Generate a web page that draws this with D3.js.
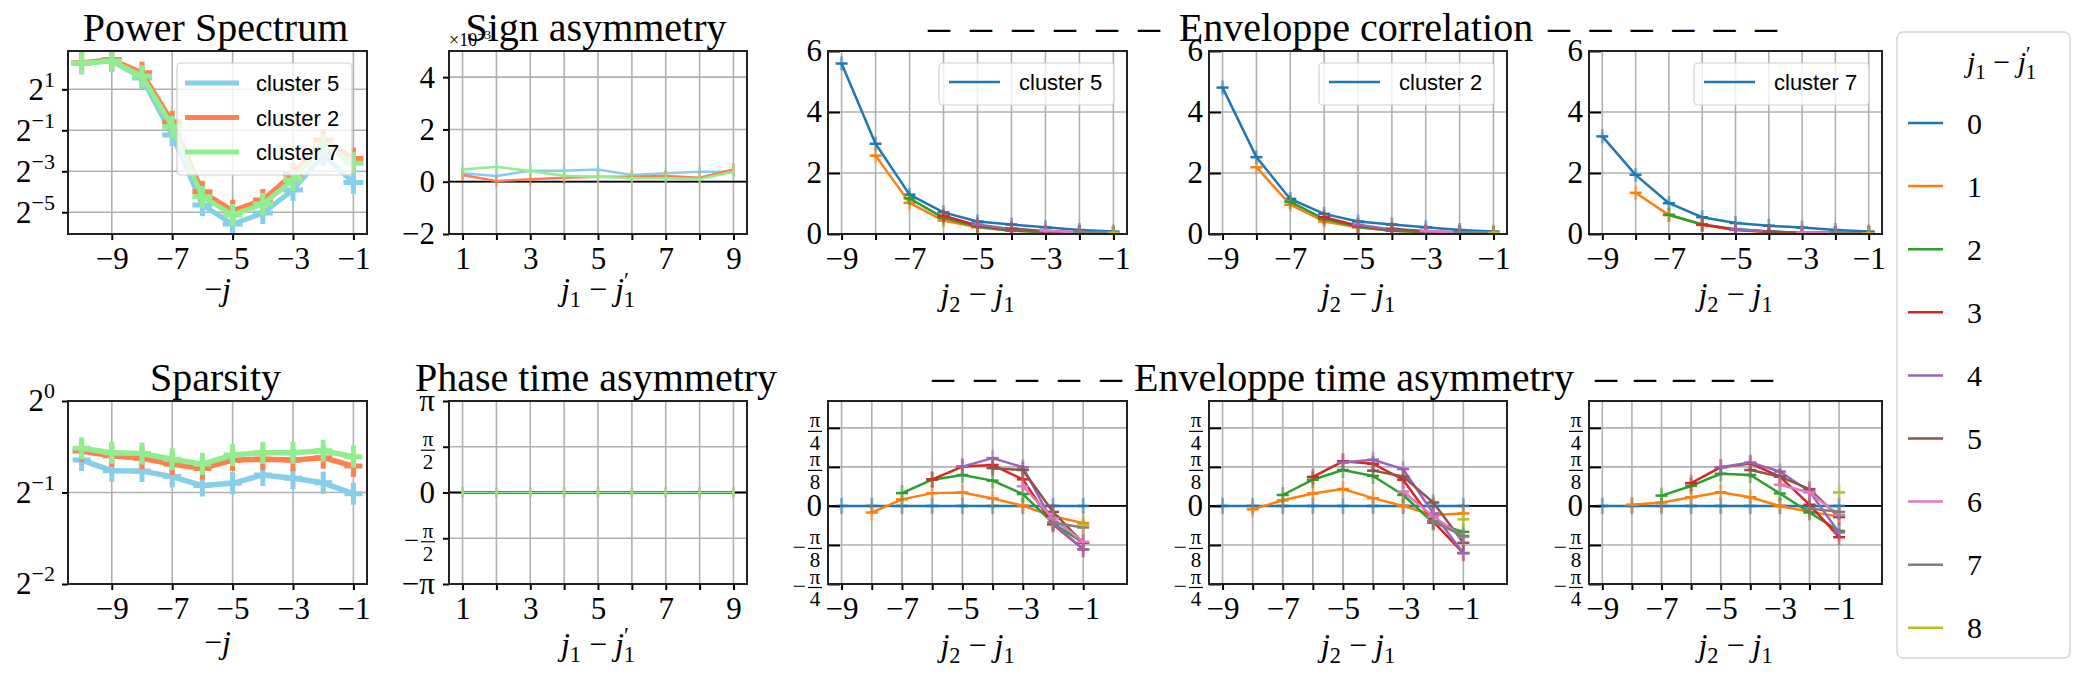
<!DOCTYPE html>
<html>
<head>
<meta charset="utf-8">
<script src="https://cdn.jsdelivr.net/npm/d3@7"></script>
<style>
  body { margin: 0; background: #fff; }
</style>
</head>
<body>
<div id="fig"></div>
<script>
// ---- data ----
var scalesNeg = [-10, -9, -8, -7, -6, -5, -4, -3, -2, -1];   // -j
var scaleDiff = [1, 2, 3, 4, 5, 6, 7, 8, 9];                  // j1 - j1'
var lagJ2 = [-9, -8, -7, -6, -5, -4, -3, -2, -1];             // j2 - j1
var j1Diff = [0, 1, 2, 3, 4, 5, 6, 7, 8];
var clusterNames = ["cluster 5", "cluster 2", "cluster 7"];

// power spectrum (log2 axis)
var power5 = [4.82, 5.21, 2.93, 0.426, 0.0401, 0.0210, 0.0304, 0.0666, 0.218, 0.0854];
var power2 = [4.92, 5.50, 3.51, 0.669, 0.0625, 0.0330, 0.0474, 0.114, 0.361, 0.193];
var power7 = [4.82, 5.21, 3.14, 0.566, 0.0529, 0.0286, 0.0412, 0.0934, 0.304, 0.164];

// sign asymmetry (axis scaled by the x10 offset)
var sign5 = [0.32, 0.22, 0.42, 0.42, 0.47, 0.26, 0.32, 0.38, 0.38];
var sign2 = [0.26, 0.03, 0.09, 0.15, 0.19, 0.19, 0.22, 0.15, 0.47];
var sign7 = [0.47, 0.57, 0.41, 0.23, 0.19, 0.13, 0.13, 0.10, 0.38];

// sparsity (log2 axis)
var sparse5 = [0.639, 0.590, 0.588, 0.564, 0.527, 0.536, 0.571, 0.557, 0.538, 0.495];
var sparse2 = [0.685, 0.660, 0.648, 0.620, 0.600, 0.639, 0.643, 0.639, 0.651, 0.611];
var sparse7 = [0.699, 0.676, 0.672, 0.643, 0.620, 0.664, 0.676, 0.676, 0.686, 0.656];

// phase time asymmetry (units of pi)
var phase5 = [0, 0, 0, 0, 0, 0, 0, 0, 0];
var phase2 = [0, 0, 0, 0, 0, 0, 0, 0, 0];
var phase7 = [0, 0, 0, 0, 0, 0, 0, 0, 0];

// envelope correlation: row k is j1-j1' = k, starting at j2-j1 = -9+k
var envCorr5 = [
  [5.59, 2.96, 1.29, 0.71, 0.41, 0.31, 0.22, 0.13, 0.08],
  [2.57, 1.02, 0.44, 0.22, 0.11, 0.06, 0.04, 0.03],
  [1.17, 0.53, 0.24, 0.11, 0.06, 0.04, 0.03],
  [0.60, 0.28, 0.14, 0.07, 0.05, 0.03],
  [0.31, 0.16, 0.08, 0.05, 0.03],
  [0.18, 0.09, 0.05, 0.03],
  [0.11, 0.06, 0.03],
  [0.07, 0.03],
  [0.04]
];
var envCorr2 = [
  [4.80, 2.52, 1.15, 0.66, 0.41, 0.31, 0.22, 0.13, 0.08],
  [2.19, 0.96, 0.41, 0.22, 0.11, 0.06, 0.04, 0.03],
  [1.06, 0.49, 0.23, 0.11, 0.06, 0.04, 0.03],
  [0.55, 0.27, 0.13, 0.07, 0.04, 0.03],
  [0.30, 0.15, 0.08, 0.04, 0.03],
  [0.17, 0.09, 0.05, 0.03],
  [0.10, 0.05, 0.03],
  [0.06, 0.03],
  [0.04]
];
var envCorr7 = [
  [3.20, 1.94, 1.01, 0.55, 0.36, 0.27, 0.21, 0.13, 0.08],
  [1.35, 0.62, 0.31, 0.13, 0.06, 0.04, 0.03, 0.02],
  [0.63, 0.31, 0.16, 0.08, 0.04, 0.03, 0.02],
  [0.30, 0.14, 0.07, 0.04, 0.03, 0.02],
  [0.15, 0.08, 0.04, 0.03, 0.02],
  [0.08, 0.04, 0.03, 0.02],
  [0.05, 0.03, 0.02],
  [0.03, 0.02],
  [0.02]
];

// envelope time asymmetry (units of pi), same layout
var envAsym5 = [
  [0, 0, 0, 0, 0, 0, 0, 0, 0],
  [-0.021, 0.021, 0.041, 0.043, 0.024, 0.001, -0.033, -0.055],
  [0.041, 0.084, 0.099, 0.081, 0.038, -0.055, -0.118],
  [0.085, 0.126, 0.131, 0.085, -0.059, -0.139],
  [0.126, 0.153, 0.124, -0.054, -0.139],
  [0.121, 0.115, -0.019, -0.118],
  [0.063, -0.040, -0.115],
  [-0.054, -0.069],
  [-0.061]
];
var envAsym2 = [
  [0, 0, 0, 0, 0, 0, 0, 0, 0],
  [-0.011, 0.018, 0.040, 0.054, 0.025, 0.000, -0.029, -0.024],
  [0.035, 0.084, 0.115, 0.096, 0.035, -0.054, -0.083],
  [0.093, 0.143, 0.135, 0.084, -0.050, -0.151],
  [0.139, 0.148, 0.118, -0.024, -0.151],
  [0.113, 0.094, 0.011, -0.118],
  [0.046, -0.034, -0.099],
  [-0.050, -0.096],
  [-0.043]
];
var envAsym7 = [
  [0, 0, 0, 0, 0, 0, 0, 0, 0],
  [0.004, 0.011, 0.028, 0.044, 0.028, 0.000, -0.019, -0.034],
  [0.033, 0.064, 0.103, 0.099, 0.040, -0.021, -0.080],
  [0.073, 0.124, 0.136, 0.094, 0.004, -0.100],
  [0.124, 0.139, 0.110, 0.046, -0.085],
  [0.115, 0.094, 0.054, -0.036],
  [0.068, 0.043, -0.029],
  [-0.008, -0.019],
  [0.043]
];

// tick values
var log2Ticks = [2, 0.5, 0.125, 0.03125];
var sparseTicks = [1, 0.5, 0.25];
var signTicks = [-2, 0, 2, 4];
var corrTicks = [0, 2, 4, 6];
var phaseTicks = [-1, -0.5, 0, 0.5, 1];
var asymTicks = [-0.25, -0.125, 0, 0.125, 0.25];

// ---- styles ----
var clusterColors = ["#87ceeb", "#ff7f50", "#90ee90"];
var tab10 = ["#1f77b4", "#ff7f0e", "#2ca02c", "#d62728", "#9467bd", "#8c564b", "#e377c2", "#7f7f7f", "#bcbd22"];
var SERIF = "'Liberation Serif', 'DejaVu Serif', serif";
var SANS = "'Liberation Sans', 'DejaVu Sans', sans-serif";

var svg = d3.select("#fig").append("svg")
  .attr("width", 2092).attr("height", 677)
  .style("background", "#fff");
var defs = svg.append("defs");

var colX = [[68, 367], [449, 747], [828, 1127], [1209, 1507], [1589, 1882]];
var rowY = [[51, 234], [401, 584]];

function makePanel(c, r, x, y) {
  var p = { x0: colX[c][0], x1: colX[c][1], y0: rowY[r][0], y1: rowY[r][1] };
  p.x = x.range([p.x0, p.x1]);
  p.y = y.range([p.y1, p.y0]);
  var id = "clip" + c + r;
  defs.append("clipPath").attr("id", id).append("rect")
    .attr("x", p.x0).attr("y", p.y0).attr("width", p.x1 - p.x0).attr("height", p.y1 - p.y0);
  p.g = svg.append("g");
  p.grid = p.g.append("g");
  p.plot = p.g.append("g").attr("clip-path", "url(#" + id + ")");
  p.axes = p.g.append("g");
  return p;
}

function drawGrid(p, xv, yv) {
  p.grid.selectAll(".gx").data(xv).enter().append("line")
    .attr("x1", function (d) { return p.x(d); }).attr("x2", function (d) { return p.x(d); })
    .attr("y1", p.y0).attr("y2", p.y1)
    .style("stroke", "#b0b0b0").style("stroke-width", 1.6);
  p.grid.selectAll(".gy").data(yv).enter().append("line")
    .attr("y1", function (d) { return p.y(d); }).attr("y2", function (d) { return p.y(d); })
    .attr("x1", p.x0).attr("x2", p.x1)
    .style("stroke", "#b0b0b0").style("stroke-width", 1.6);
}

function zeroLine(p) {
  p.plot.append("line")
    .attr("x1", p.x0).attr("x2", p.x1).attr("y1", p.y(0)).attr("y2", p.y(0))
    .style("stroke", "#000").style("stroke-width", 1.8);
}

function frame(p) {
  p.g.append("rect")
    .attr("x", p.x0).attr("y", p.y0).attr("width", p.x1 - p.x0).attr("height", p.y1 - p.y0)
    .style("fill", "none").style("stroke", "#222").style("stroke-width", 2);
}

function styleAxis(g) {
  g.select(".domain").remove();
  g.attr("font-family", SERIF).attr("font-size", 31);
  g.selectAll(".tick line").style("stroke-width", 2);
}

function xAxis(p, ticks, labelled) {
  var ax = d3.axisBottom(p.x).tickValues(ticks).tickSize(6).tickPadding(7)
    .tickFormat(function (d) { return labelled.indexOf(d) >= 0 ? d3.format("d")(d) : ""; });
  var g = p.axes.append("g").attr("transform", "translate(0," + p.y1 + ")").call(ax);
  styleAxis(g);
}

function yAxis(p, ticks, inner, pad, fmt) {
  var ax = d3.axisLeft(p.y).tickValues(ticks).tickSizeInner(inner).tickSizeOuter(0)
    .tickPadding(pad).tickFormat(fmt || d3.format("d"));
  var g = p.axes.append("g").attr("transform", "translate(" + p.x0 + ",0)").call(ax);
  styleAxis(g);
  return g;
}

// y labels like 2^k
function log2Labels(g) {
  g.selectAll(".tick text").each(function (d) {
    var t = d3.select(this).text("2");
    t.append("tspan").attr("dy", -13).style("font-size", "22px")
      .text(d3.format("d")(Math.round(Math.log2(d))));
  });
}

// y labels as fractions of pi
function piLabels(g, pad, fs, big) {
  g.selectAll(".tick").each(function (d) {
    var t = d3.select(this);
    t.select("text").remove();
    var right = -pad;
    var txt = function () {
      return t.append("text").attr("fill", "#000").style("font-family", SERIF);
    };
    if (d == 0) {
      txt().attr("x", right).attr("dy", "0.32em").attr("text-anchor", "end")
        .style("font-size", "31px").text("0");
      return;
    }
    var a = Math.abs(d);
    if (a == 1) {
      txt().attr("x", right).attr("dy", "0.32em").attr("text-anchor", "end")
        .style("font-size", "31px").text((d < 0 ? "−" : "") + "π");
      return;
    }
    var den = Math.round(1 / a);
    var w = 14, bar = 3, cx = right - w / 2;
    txt().attr("x", cx).attr("y", bar - 4).attr("text-anchor", "middle")
      .style("font-size", fs + "px").text("π");
    t.append("line").attr("x1", right - w).attr("x2", right).attr("y1", bar).attr("y2", bar)
      .style("stroke", "#000").style("stroke-width", 1.2);
    txt().attr("x", cx).attr("y", bar + fs * 0.9).attr("text-anchor", "middle")
      .style("font-size", fs + "px").text(den);
    if (d < 0) {
      txt().attr("x", right - w - 2).attr("y", bar + big * 0.27).attr("text-anchor", "end")
        .style("font-size", big + "px").text("−");
    }
  });
}

// math-ish label with italic / sub / sup parts
function mathLabel(parent, x, y, parts, size, anchor) {
  var t = parent.append("text")
    .attr("x", x).attr("y", y)
    .attr("fill", "#000")
    .attr("text-anchor", anchor || "middle")
    .style("font-family", SERIF)
    .style("font-size", size + "px");
  var shift = 0;
  parts.forEach(function (p) {
    var s = t.append("tspan").text(p[0]);
    var want = 0;
    if (p[1] == "i") s.style("font-style", "italic");
    if (p[1] == "sub") { want = size * 0.22; s.style("font-size", (size * 0.7) + "px"); }
    if (p[1] == "sup") { want = -size * 0.38; s.style("font-size", (size * 0.7) + "px"); }
    if (p[2]) s.attr("dx", p[2]);
    s.attr("dy", want - shift);
    shift = want;
  });
  return t;
}
var labNegJ = [["−"], ["j", "i"]];
var labJ1 = [["j", "i"], ["1", "sub"], [" − "], ["j", "i"], ["′", "sup"], ["1", "sub", -5]];
var labJ2 = [["j", "i"], ["2", "sub"], [" − "], ["j", "i"], ["1", "sub"]];

function title(p, text) {
  svg.append("text")
    .attr("x", (p.x0 + p.x1) / 2 - 2).attr("y", p.y0 - 10)
    .attr("text-anchor", "middle")
    .style("font-family", SERIF).style("font-size", "40px")
    .text(text);
}

function drawSeries(p, xs, ys, color, o) {
  var pts = ys.map(function (v, i) { return [xs[i], v]; });
  var line = d3.line()
    .x(function (d) { return p.x(d[0]); })
    .y(function (d) { return p.y(d[1]); });
  if (o.ex) {
    p.plot.append("g").selectAll("path").data(pts).enter().append("path")
      .attr("transform", function (d) { return "translate(" + p.x(d[0]) + "," + p.y(d[1]) + ")"; })
      .attr("d", "M0," + (-o.ey) + "V" + o.ey)
      .style("stroke", color).style("stroke-width", o.ew).style("opacity", o.eo);
  }
  p.plot.append("path").datum(pts).attr("d", line)
    .style("fill", "none").style("stroke", color).style("stroke-width", o.lw)
    .style("stroke-linejoin", "round");
  if (o.mx) {
    p.plot.append("g").selectAll("path").data(pts).enter().append("path")
      .attr("transform", function (d) { return "translate(" + p.x(d[0]) + "," + p.y(d[1]) + ")"; })
      .attr("d", "M" + (-o.mx) + ",0H" + o.mx + (o.my ? "M0," + (-o.my) + "V" + o.my : ""))
      .style("stroke", color).style("stroke-width", o.mw).style("fill", "none");
  }
}

function clusterLegend(p, name) {
  var right = p.x1 - 13, left = right - 175, top = p.y0 + 12;
  var g = p.g.append("g");
  g.append("rect").attr("x", left).attr("y", top).attr("width", 175).attr("height", 42).attr("rx", 4)
    .style("fill", "#fff").style("fill-opacity", 0.8).style("stroke", "#d0d0d0").style("stroke-width", 1.2);
  g.append("line").attr("x1", left + 10).attr("x2", left + 61).attr("y1", top + 19).attr("y2", top + 19)
    .style("stroke", tab10[0]).style("stroke-width", 2.5);
  g.append("text").attr("x", left + 80).attr("y", top + 27)
    .style("font-family", SANS).style("font-size", "22px").text(name);
}

// ---- Power Spectrum ----
var ps = makePanel(0, 0, d3.scaleLinear().domain([-10.45, -0.55]),
  d3.scaleLog().base(2).domain([Math.pow(2, -6.06), Math.pow(2, 2.87)]));
drawGrid(ps, [-9, -7, -5, -3, -1], log2Ticks);
[power5, power2, power7].forEach(function (s, i) {
  drawSeries(ps, scalesNeg, s, clusterColors[i], { lw: 5, mx: 10, my: 11, mw: 5 });
});
frame(ps);
xAxis(ps, [-9, -7, -5, -3, -1], [-9, -7, -5, -3, -1]);
log2Labels(yAxis(ps, log2Ticks, 6, 7));
title(ps, "Power Spectrum");
mathLabel(svg, (ps.x0 + ps.x1) / 2, ps.y1 + 66, labNegJ, 32);
// legend
var lg = ps.g.append("g");
lg.append("rect").attr("x", ps.x0 + 109).attr("y", ps.y0 + 12).attr("width", 175).attr("height", 112).attr("rx", 4)
  .style("fill", "#fff").style("fill-opacity", 0.8).style("stroke", "#d0d0d0").style("stroke-width", 1.2);
clusterNames.forEach(function (n, i) {
  var yy = ps.y0 + 32 + i * 34.5;
  lg.append("line").attr("x1", ps.x0 + 117).attr("x2", ps.x0 + 171).attr("y1", yy).attr("y2", yy)
    .style("stroke", clusterColors[i]).style("stroke-width", 5);
  lg.append("text").attr("x", ps.x0 + 188).attr("y", yy + 8)
    .style("font-family", SANS).style("font-size", "22px").text(n);
});

// ---- Sign asymmetry ----
var sa = makePanel(1, 0, d3.scaleLinear().domain([0.6, 9.4]), d3.scaleLinear().domain([-2, 5]));
drawGrid(sa, scaleDiff, signTicks);
zeroLine(sa);
[sign5, sign2, sign7].forEach(function (s, i) {
  drawSeries(sa, scaleDiff, s, clusterColors[i], { lw: 2.5, ex: 1, ey: 6, ew: 2.5, eo: 0.6 });
});
frame(sa);
xAxis(sa, scaleDiff, [1, 3, 5, 7, 9]);
yAxis(sa, signTicks, 6, 8);
svg.append("text").attr("x", sa.x0).attr("y", sa.y0 - 5)
  .style("font-family", SERIF).style("font-size", "18px")
  .text("×10").append("tspan").attr("dy", -7).style("font-size", "13px").text("−3");
title(sa, "Sign asymmetry");
mathLabel(svg, (sa.x0 + sa.x1) / 2, sa.y1 + 66, labJ1, 32);

// ---- Enveloppe correlation ----
[envCorr5, envCorr2, envCorr7].forEach(function (rows, c) {
  var p = makePanel(2 + c, 0, d3.scaleLinear().domain([-9.4, -0.6]), d3.scaleLinear().domain([0, 6]));
  drawGrid(p, lagJ2, corrTicks);
  rows.forEach(function (s, k) {
    drawSeries(p, lagJ2.slice(k), s, tab10[k], { lw: 2.5, mx: 6, mw: 2.5, ex: 1, ey: 7, ew: 3, eo: 0.45 });
  });
  frame(p);
  xAxis(p, lagJ2, [-9, -7, -5, -3, -1]);
  yAxis(p, corrTicks, -12, 6);
  clusterLegend(p, clusterNames[c]);
  mathLabel(svg, (p.x0 + p.x1) / 2, p.y1 + 71, labJ2, 32);
});

// ---- Sparsity ----
var sp = makePanel(0, 1, d3.scaleLinear().domain([-10.45, -0.55]), d3.scaleLog().base(2).domain([0.25, 1]));
drawGrid(sp, [-9, -7, -5, -3, -1], sparseTicks);
[sparse5, sparse2, sparse7].forEach(function (s, i) {
  drawSeries(sp, scalesNeg, s, clusterColors[i], { lw: 5.5, mx: 9, my: 11, mw: 5 });
});
frame(sp);
xAxis(sp, [-9, -7, -5, -3, -1], [-9, -7, -5, -3, -1]);
log2Labels(yAxis(sp, sparseTicks, 6, 7));
title(sp, "Sparsity");
mathLabel(svg, (sp.x0 + sp.x1) / 2, sp.y1 + 69, labNegJ, 32);

// ---- Phase time asymmetry ----
var pa = makePanel(1, 1, d3.scaleLinear().domain([0.6, 9.4]), d3.scaleLinear().domain([-1, 1]));
drawGrid(pa, scaleDiff, phaseTicks);
zeroLine(pa);
[phase5, phase2, phase7].forEach(function (s, i) {
  drawSeries(pa, scaleDiff, s, clusterColors[i], { lw: 1.2, ex: 1, ey: 5, ew: 2.5, eo: 0.7 });
});
frame(pa);
xAxis(pa, scaleDiff, [1, 3, 5, 7, 9]);
piLabels(yAxis(pa, phaseTicks, 6, 8), 14, 21, 26);
title(pa, "Phase time asymmetry");
mathLabel(svg, (pa.x0 + pa.x1) / 2, pa.y1 + 71, labJ1, 32);

// ---- Enveloppe time asymmetry ----
[envAsym5, envAsym2, envAsym7].forEach(function (rows, c) {
  var p = makePanel(2 + c, 1, d3.scaleLinear().domain([-9.45, 0.45]), d3.scaleLinear().domain([-0.25, 0.336]));
  drawGrid(p, lagJ2, asymTicks);
  zeroLine(p);
  rows.forEach(function (s, k) {
    drawSeries(p, lagJ2.slice(k), s, tab10[k], { lw: 2.5, mx: 6, mw: 2.5, ex: 1, ey: 8, ew: 3, eo: 0.45 });
  });
  frame(p);
  xAxis(p, lagJ2, [-9, -7, -5, -3, -1]);
  piLabels(yAxis(p, asymTicks, -12, 6), 6, 21, 24);
  mathLabel(svg, (p.x0 + p.x1) / 2, p.y1 + 72, labJ2, 32);
});

// ---- titles with dashes ----
function dashes(x, y, n, len) {
  svg.append("text").attr("x", x).attr("y", y)
    .attr("textLength", len).attr("lengthAdjust", "spacing")
    .style("font-family", SERIF).style("font-size", "44px")
    .text(d3.range(n).map(function () { return "–"; }).join(" "));
}
svg.append("text").attr("x", 1356).attr("y", 41).attr("text-anchor", "middle")
  .style("font-family", SERIF).style("font-size", "40px").text("Enveloppe correlation");
dashes(928, 41, 6, 232);
dashes(1548, 41, 6, 229);
svg.append("text").attr("x", 1354).attr("y", 391).attr("text-anchor", "middle")
  .style("font-family", SERIF).style("font-size", "40px").text("Enveloppe time asymmetry");
dashes(932, 391, 5, 190);
dashes(1595, 391, 5, 178);

// ---- right legend ----
var rl = svg.append("g");
rl.append("rect").attr("x", 1897).attr("y", 32).attr("width", 173).attr("height", 626).attr("rx", 6)
  .style("fill", "#fff").style("stroke", "#d6d6d6").style("stroke-width", 1.5);
mathLabel(rl, 1967, 72, labJ1, 30, "start");
j1Diff.forEach(function (k) {
  var yy = 123 + k * 63.1;
  rl.append("line").attr("x1", 1908).attr("x2", 1943).attr("y1", yy).attr("y2", yy)
    .style("stroke", tab10[k]).style("stroke-width", 2.5);
  rl.append("text").attr("x", 1967).attr("y", yy).attr("dy", "0.35em")
    .style("font-family", SERIF).style("font-size", "30px").text(k);
});
</script>
</body>
</html>
